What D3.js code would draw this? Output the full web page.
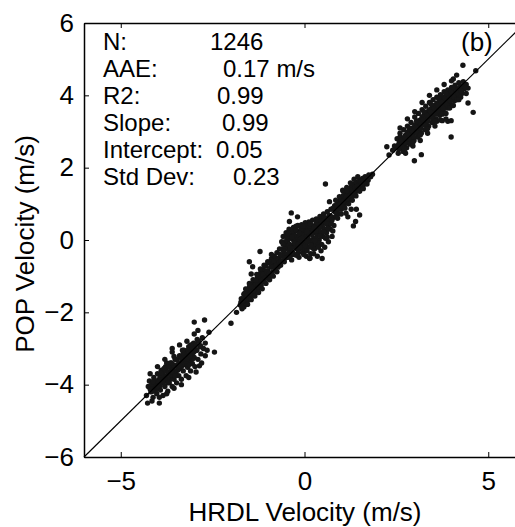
<!DOCTYPE html>
<html>
<head>
<meta charset="utf-8">
<title>POP vs HRDL velocity</title>
<script src="https://cdn.jsdelivr.net/npm/d3@7"></script>
<style>
  body { margin: 0; background: #fff; }
  svg text { font-family: "Liberation Sans", Arial, sans-serif; fill: #000; }
  .axis path, .axis line { stroke: #000; }
</style>
</head>
<body>
<div id="box"></div>
<script>
// chart size
const width = 515
const height = 527

// axis domains and ticks
const xDomain = [-6, 6]
const yDomain = [-6, 6]
const xTicks = [-5, 0, 5]
const yTicks = [-6, -4, -2, 0, 2, 4, 6]

// statistics box
const statLabels = ['N:', 'AAE:', 'R2:', 'Slope:', 'Intercept:', 'Std Dev:']
const statValues = ['1246', '0.17 m/s', '0.99', '0.99', '0.05', '0.23']
const statValueX = [210, 223, 217, 222, 216, 233]

// [HRDL, POP] pairs, cluster by cluster
const lowCluster = [
  [-4.25,-4.05],[-4.22,-3.90],[-4.18,-4.20],[-4.15,-3.98],[-4.12,-4.35],[-4.10,-3.80],[-4.08,-4.10],[-4.05,-3.95],
  [-4.02,-4.25],[-4.00,-3.70],[-3.98,-4.05],[-3.95,-3.85],[-3.92,-4.15],[-3.90,-3.60],[-3.88,-3.95],[-3.85,-4.30],
  [-3.83,-3.75],[-3.80,-4.05],[-3.78,-3.50],[-3.75,-3.88],[-3.72,-4.18],[-3.70,-3.65],[-3.68,-3.95],[-3.65,-3.40],
  [-3.62,-3.78],[-3.60,-4.05],[-3.58,-3.55],[-3.55,-3.85],[-3.52,-3.30],[-3.50,-3.65],[-3.48,-3.95],[-3.45,-3.45],
  [-3.42,-3.75],[-3.40,-3.20],[-3.38,-3.55],[-3.35,-3.85],[-3.32,-3.35],[-3.30,-3.62],[-3.28,-3.05],[-3.25,-3.45],
  [-3.22,-3.75],[-3.20,-3.25],[-3.18,-3.52],[-3.15,-2.95],[-3.12,-3.35],[-3.10,-3.62],[-3.08,-3.15],[-3.05,-3.42],
  [-3.02,-2.85],[-3.00,-3.25],[-2.98,-3.50],[-2.95,-3.05],[-2.92,-2.75],[-2.90,-3.30],[-2.85,-2.95],[-2.82,-3.15],
  [-2.78,-2.70],[-2.75,-3.00],[-2.70,-2.85],[-2.65,-3.05],
  [-4.10,-4.05],[-4.00,-3.92],[-3.90,-3.85],[-3.80,-3.75],[-3.70,-3.70],[-3.60,-3.58],[-3.50,-3.48],[-3.40,-3.40],
  [-3.30,-3.28],[-3.20,-3.18],[-3.10,-3.08],[-3.00,-2.98],[-4.05,-4.15],[-3.85,-3.62],[-3.65,-3.85],[-3.45,-3.60],
  [-3.25,-3.10],[-3.05,-3.30],[-3.95,-3.72],[-3.75,-3.40],[-3.55,-3.22],[-3.35,-3.50],[-3.15,-3.45],
  [-4.17,-4.02],[-4.13,-4.18],[-4.07,-3.88],[-4.03,-4.08],[-3.97,-3.93],[-3.93,-4.03],[-3.87,-3.72],[-3.83,-3.92],
  [-3.77,-3.62],[-3.73,-3.83],[-3.67,-3.52],[-3.63,-3.72],[-3.57,-3.45],[-3.53,-3.62],[-3.47,-3.32],[-3.43,-3.52],
  [-3.37,-3.25],[-3.33,-3.45],[-3.27,-3.18],[-3.23,-3.35],[-3.17,-3.05],[-3.13,-3.25],[-3.07,-2.95],[-3.03,-3.12],
  [-2.97,-2.88],[-2.93,-3.05],[-2.87,-2.80],[-2.83,-2.92],[-4.20,-4.12],[-4.00,-4.05],[-3.80,-3.85],[-3.60,-3.65],
  [-3.40,-3.48],[-3.20,-3.30],[-3.00,-3.08],[-3.90,-3.68],[-3.70,-3.50],[-3.50,-3.30],[-3.30,-3.12],[-3.10,-2.90],
  [-4.12,-3.92],[-3.62,-3.40],[-3.12,-3.20],[-3.82,-3.55],[-3.32,-3.05],[-3.52,-3.75],[-3.72,-3.95],
  [-4.20,-3.70],[-4.00,-3.50],[-3.80,-3.30],[-3.60,-3.00],[-3.40,-2.90],[-3.20,-2.80],[-3.00,-2.60],[-4.15,-4.45],
  [-3.95,-4.35],[-3.75,-4.25],[-3.55,-4.10],[-3.35,-4.00],[-3.15,-3.80],[-2.95,-3.65],[-2.80,-3.40],[-2.70,-3.20],
  [-2.72,-2.21],[-3.00,-2.27],[-2.45,-3.10],[-2.86,-3.48],[-4.27,-4.51],[-3.95,-4.51],[-4.30,-4.30],[-3.60,-3.10],
  [-2.60,-2.55],[-2.90,-2.50]
]

const midCluster = [
  [-1.75,-1.80],[-1.72,-1.62],[-1.70,-1.90],[-1.68,-1.70],[-1.65,-1.50],[-1.62,-1.78],[-1.60,-1.58],[-1.58,-1.40],
  [-1.55,-1.68],[-1.52,-1.48],[-1.50,-1.30],[-1.48,-1.60],[-1.45,-1.40],[-1.42,-1.22],[-1.40,-1.52],[-1.38,-1.32],
  [-1.35,-1.12],[-1.32,-1.42],[-1.30,-1.22],[-1.28,-1.02],[-1.25,-1.32],[-1.22,-1.12],[-1.20,-0.92],[-1.18,-1.25],
  [-1.15,-1.02],[-1.12,-0.82],[-1.10,-1.15],[-1.08,-0.95],[-1.05,-0.72],[-1.02,-1.05],[-1.00,-0.85],[-0.98,-0.62],
  [-0.95,-0.98],[-0.92,-0.75],[-0.90,-0.52],[-0.88,-0.90],[-0.85,-0.65],[-0.82,-0.45],[-0.80,-0.82],[-0.78,-0.58],
  [-0.75,-0.35],[-0.72,-0.75],[-0.70,-0.50],
  [-1.73,-1.72],[-1.66,-1.62],[-1.63,-1.48],[-1.57,-1.55],[-1.53,-1.38],[-1.47,-1.48],[-1.43,-1.30],[-1.37,-1.40],
  [-1.33,-1.22],[-1.27,-1.20],[-1.23,-1.05],[-1.17,-1.12],[-1.13,-0.95],[-1.07,-1.05],[-1.03,-0.88],[-0.97,-0.92],
  [-0.93,-0.62],[-0.87,-0.75],[-0.83,-0.58],[-0.77,-0.70],[-0.73,-0.52],[-0.69,-0.62],
  [-1.60,-1.35],[-1.50,-1.20],[-1.40,-1.10],[-1.30,-0.95],[-1.20,-0.80],[-1.10,-0.70],[-1.00,-0.60],[-0.90,-0.40],
  [-1.65,-1.85],[-1.55,-1.78],[-1.45,-1.65],[-1.35,-1.55],[-1.25,-1.45],[-1.15,-1.35],[-1.05,-1.20],[-0.95,-1.10],
  [-0.85,-1.00],[-0.75,-0.88],
  [-0.68,-0.25],[-0.65,-0.70],[-0.62,-0.05],[-0.60,-0.45],[-0.58,0.10],[-0.55,-0.60],[-0.52,-0.22],[-0.50,0.20],
  [-0.48,-0.48],[-0.45,0.00],[-0.42,0.30],[-0.40,-0.35],[-0.38,0.12],[-0.35,-0.55],[-0.32,-0.15],[-0.30,0.35],
  [-0.28,-0.40],[-0.25,0.05],[-0.22,0.25],[-0.20,-0.25],[-0.18,0.40],[-0.15,-0.48],[-0.12,0.10],[-0.10,-0.10],
  [-0.08,0.42],[-0.05,-0.35],[-0.02,0.20],[0.00,-0.05],[0.02,0.48],[0.05,-0.45],[0.08,0.12],[0.10,-0.20],
  [0.12,0.50],[0.15,-0.50],[0.18,0.28],[0.20,-0.08],[0.22,0.55],[0.25,-0.38],[0.28,0.20],[0.30,-0.15],
  [0.32,0.58],[0.35,-0.45],[0.38,0.32],[0.40,0.00],[0.42,0.65],[0.45,-0.30],[0.48,0.42],[0.50,0.10],
  [0.52,0.72],[0.55,-0.20],[0.58,0.50],[0.60,0.20],[0.62,0.78],[0.65,-0.05],[0.68,0.55],[0.70,0.30],
  [0.72,0.85],[0.75,0.10],[0.78,0.62],[0.80,0.40],
  [-0.60,-0.25],[-0.50,-0.10],[-0.40,-0.12],[-0.30,0.00],[-0.20,0.10],[-0.10,0.22],[0.00,0.30],[0.10,0.30],
  [0.20,0.40],[0.30,0.40],[0.40,0.45],[0.50,0.55],[0.60,0.60],[-0.55,-0.40],[-0.45,-0.25],[-0.35,-0.30],
  [-0.25,-0.20],[-0.15,-0.25],[-0.05,-0.18],[0.05,-0.10],[0.15,-0.02],[0.25,0.05],[0.35,0.15],[0.45,0.20],
  [0.55,0.30],[0.65,0.40],[-0.40,0.05],[-0.20,-0.05],[0.00,0.10],[0.20,0.15],[0.40,0.25],[0.60,0.45],
  [-0.30,0.20],[-0.10,0.30],[0.10,0.05],[0.30,0.05],[0.50,0.35],
  [-0.66,-0.40],[-0.63,-0.58],[-0.57,-0.30],[-0.53,-0.05],[-0.47,-0.38],[-0.43,-0.15],[-0.37,-0.42],[-0.33,0.25],
  [-0.27,-0.08],[-0.23,0.38],[-0.17,-0.35],[-0.13,0.00],[-0.07,0.15],[-0.03,-0.25],[0.03,0.38],[0.07,-0.30],
  [0.13,0.18],[0.17,-0.38],[0.23,0.30],[0.27,-0.25],[0.33,0.48],[0.37,-0.08],[0.43,0.35],[0.47,-0.12],
  [0.53,0.62],[0.57,0.05],[0.63,0.32],[0.67,0.68],[0.73,0.45],[0.77,0.25],
  [-0.58,-0.12],[-0.48,0.08],[-0.38,-0.22],[-0.28,0.12],[-0.18,-0.12],[-0.08,0.05],[0.02,-0.15],[0.12,0.40],
  [0.22,-0.22],[0.32,0.25],[0.42,0.12],[0.52,0.22],[0.62,0.08],[0.72,0.65],
  [-0.44,0.18],[-0.34,0.08],[-0.24,0.28],[-0.14,0.18],[-0.04,0.38],[0.06,0.22],[0.16,0.45],[0.26,0.35],
  [0.36,0.55],[0.46,0.52],[-0.52,-0.50],[-0.42,-0.48],[-0.32,-0.35],[-0.22,-0.42],[-0.12,-0.20],[-0.02,-0.40],
  [0.08,-0.05],[0.18,-0.15],[0.28,-0.02],[0.38,-0.20],
  [0.82,0.95],[0.85,0.65],[0.88,0.82],[0.90,1.05],[0.92,0.72],[0.95,0.92],[0.98,1.12],[1.00,0.85],
  [1.02,1.02],[1.05,1.22],[1.08,0.95],[1.10,1.12],[1.12,1.32],[1.15,1.05],[1.18,1.22],[1.20,1.40],
  [1.22,1.12],[1.25,1.30],[1.28,1.48],[1.30,1.22],[1.32,1.38],[1.35,1.55],[1.38,1.30],[1.40,1.45],
  [1.42,1.60],[1.45,1.38],[1.48,1.52],[1.50,1.65],[1.52,1.45],[1.55,1.58],[1.58,1.70],[1.60,1.52],
  [1.62,1.65],[1.65,1.75],[1.68,1.60],[1.72,1.72],[1.75,1.80],[1.80,1.75],[1.85,1.82],
  [0.83,0.78],[0.87,0.95],[0.93,0.85],[0.97,1.00],[1.03,0.92],[1.07,1.08],[1.13,1.18],[1.17,1.12],
  [1.23,1.22],[1.27,1.38],[1.33,1.30],[1.37,1.45],[1.43,1.48],[1.47,1.42],[1.53,1.62],[1.57,1.55],
  [1.63,1.58],[1.67,1.68],[1.73,1.65],[1.78,1.78],
  [0.85,1.10],[0.95,1.20],[1.05,1.35],[1.15,1.45],[1.25,1.58],[1.35,1.68],[1.45,1.75],[0.90,0.60],
  [1.00,0.72],[1.10,0.88],[1.20,1.00],[1.30,1.10],[1.40,1.22],[1.50,1.35],[1.60,1.42],[1.70,1.55],
  [0.78,0.88],[0.75,0.55],
  [0.57,1.55],[-0.36,0.75],[-0.19,0.64],[-0.41,0.51],[1.13,0.74],[1.27,0.85],[1.41,0.85],[1.50,0.69],
  [1.18,0.64],[1.39,0.51],[1.33,0.39],[0.14,-0.51],[0.48,-0.51],[-1.21,-0.32],[-1.50,-0.60],[-1.41,-0.74],
  [-1.45,-0.94],[-1.32,-1.11],[-1.68,-1.68],[-1.70,-1.86],[1.04,1.38],[1.15,1.36],[0.68,1.06],[-2.00,-2.30],
  [-1.85,-2.00]
]

const highCluster = [
  [2.50,2.55],[2.52,2.80],[2.55,2.40],[2.58,2.70],[2.60,2.95],[2.62,2.55],[2.65,2.82],[2.68,2.45],
  [2.70,3.05],[2.72,2.70],[2.75,2.90],[2.78,2.55],[2.80,3.15],[2.82,2.78],[2.85,3.00],[2.88,2.65],
  [2.90,3.25],[2.92,2.90],[2.95,3.10],[2.98,2.75],[3.00,3.40],[3.02,3.00],[3.05,3.20],[3.08,2.85],
  [3.10,3.50],[3.12,3.12],[3.15,3.32],[3.18,2.95],[3.20,3.60],[3.22,3.22],[3.25,3.45],[3.28,3.05],
  [3.30,3.70],[3.32,3.30],[3.35,3.55],[3.38,3.15],[3.40,3.80],[3.42,3.42],[3.45,3.62],[3.48,3.25],
  [3.50,3.88],[3.52,3.50],[3.55,3.72],[3.58,3.35],[3.60,3.95],[3.62,3.58],[3.65,3.80],[3.68,3.45],
  [3.70,4.02],[3.72,3.68],[3.75,3.90],[3.78,3.55],[3.80,4.10],[3.82,3.78],[3.85,3.98],[3.88,3.65],
  [3.90,4.15],[3.92,3.85],[3.95,4.05],[3.98,3.75],[4.00,4.22],[4.02,3.95],[4.05,4.12],[4.08,3.85],
  [4.10,4.28],[4.12,4.02],[4.15,4.18],[4.18,3.95],[4.20,4.35],[4.22,4.10],[4.25,4.25],[4.28,4.05],
  [4.32,4.38],[4.35,4.18],[4.40,4.30],[4.45,4.20],
  [2.55,2.62],[2.65,2.65],[2.75,2.78],[2.85,2.85],[2.95,2.95],[3.05,3.05],[3.15,3.15],[3.25,3.28],
  [3.35,3.38],[3.45,3.45],[3.55,3.58],[3.65,3.65],[3.75,3.75],[3.85,3.85],[3.95,3.92],[4.05,4.00],
  [4.15,4.10],[4.25,4.15],[2.60,2.85],[2.80,2.98],[3.00,3.18],[3.20,3.40],[3.40,3.60],[3.60,3.78],
  [3.80,3.95],[4.00,4.10],[2.70,2.60],[2.90,2.80],[3.10,2.98],[3.30,3.18],[3.50,3.38],[3.70,3.58],
  [3.90,3.78],[4.10,3.98],[3.60,3.28],[3.75,3.30],[3.90,3.28],
  [2.57,2.52],[2.63,2.75],[2.67,2.58],[2.73,2.85],[2.77,2.68],[2.83,2.92],[2.87,2.78],[2.93,3.02],
  [2.97,2.85],[3.03,3.12],[3.07,2.95],[3.13,3.25],[3.17,3.08],[3.23,3.32],[3.27,3.18],[3.33,3.45],
  [3.37,3.28],[3.43,3.55],[3.47,3.38],[3.53,3.65],[3.57,3.48],[3.63,3.72],[3.67,3.55],[3.73,3.82],
  [3.77,3.65],[3.83,3.92],[3.87,3.75],[3.93,3.98],[3.97,3.85],[4.03,4.05],[4.07,3.95],[4.13,4.15],
  [4.17,4.05],[4.23,4.20],[4.27,4.12],[4.33,4.28],[4.38,4.22],
  [2.85,3.10],[3.05,3.30],[3.25,3.55],[3.45,3.75],[3.65,3.92],[3.85,4.05],[4.05,4.22],[2.95,2.70],
  [3.15,2.90],[3.35,3.08],[3.55,3.28],[3.75,3.48],[3.95,3.65],[4.15,3.88],
  [2.60,3.10],[2.80,3.35],[3.00,3.55],[3.20,3.80],[3.40,4.00],[3.60,4.15],[3.80,4.30],[4.00,4.40],
  [2.75,2.40],[2.95,2.60],[3.15,2.75],[3.35,2.95],[3.55,3.15],[3.85,3.50],[4.05,3.72],[4.25,3.95],
  [4.40,4.05],
  [4.31,4.83],[4.66,4.68],[4.14,4.56],[4.45,3.79],[4.59,3.53],[3.99,3.30],[3.99,2.85],[3.18,2.36],
  [2.99,2.19],[2.24,2.58],[2.45,2.60],[2.72,2.51],[2.30,2.35],[3.85,3.35],[3.70,3.32],[4.05,4.45],
  [2.40,2.48],[4.20,3.88]
]

const points = lowCluster.concat(midCluster, highCluster)

// scales: the axes box runs past the right edge of the picture
const xScale = d3.scaleLinear().domain(xDomain).range([84, 525])
const yScale = d3.scaleLinear().domain(yDomain).range([457, 23])

const svg = d3.select('#box')
  .append('svg')
  .attr('width', width)
  .attr('height', height)

// dots
svg.append('g')
  .selectAll('circle')
  .data(points)
  .enter()
  .append('circle')
  .attr('cx', d => xScale(d[0]))
  .attr('cy', d => yScale(d[1]))
  .attr('r', 2.7)
  .attr('fill', '#151515')

// 1:1 line
svg.append('line')
  .attr('x1', xScale(xDomain[0]))
  .attr('y1', yScale(yDomain[0]))
  .attr('x2', xScale(xDomain[1]))
  .attr('y2', yScale(yDomain[1]))
  .attr('stroke', '#000')
  .attr('stroke-width', 1.2)

// axes, ticks pointing inward
const tickFont = 26
const fmt = d => d < 0 ? '\u2212' + Math.abs(d) : d

const xAxis = d3.axisBottom(xScale).tickValues(xTicks).tickSizeInner(-5).tickSizeOuter(0).tickFormat(fmt)
svg.append('g')
  .attr('class', 'axis')
  .attr('transform', `translate(0,${yScale(yDomain[0])})`)
  .call(xAxis)
  .call(g => g.select('.domain').attr('stroke-width', 1.5))
  .call(g => g.selectAll('text').attr('font-size', tickFont).attr('dy', '1.15em').attr('font-family', '"Liberation Sans", Arial, sans-serif'))

const xAxisTop = d3.axisTop(xScale).tickValues(xTicks).tickSizeInner(-5).tickSizeOuter(0).tickFormat('')
svg.append('g')
  .attr('class', 'axis')
  .attr('transform', `translate(0,${yScale(yDomain[1])})`)
  .call(xAxisTop)
  .call(g => g.select('.domain').attr('stroke-width', 1.5))

const yAxis = d3.axisLeft(yScale).tickValues(yTicks).tickSizeInner(-5).tickSizeOuter(0).tickFormat(fmt)
svg.append('g')
  .attr('class', 'axis')
  .attr('transform', `translate(${xScale(xDomain[0])},0)`)
  .call(yAxis)
  .call(g => g.select('.domain').attr('stroke-width', 1.5))
  .call(g => g.selectAll('text').attr('font-size', tickFont).attr('x', -10).attr('font-family', '"Liberation Sans", Arial, sans-serif'))

// axis titles
svg.append('text')
  .attr('x', 305)
  .attr('y', 521)
  .attr('text-anchor', 'middle')
  .attr('font-size', 26)
  .text('HRDL Velocity (m/s)')

svg.append('text')
  .attr('transform', 'translate(34,244) rotate(-90)')
  .attr('text-anchor', 'middle')
  .attr('font-size', 26)
  .text('POP Velocity (m/s)')

// statistics text, lines 27px apart
const statFont = 24
const stats = svg.append('g').attr('font-size', statFont)
statLabels.forEach((lab, i) => {
  stats.append('text').attr('x', 103).attr('y', 50 + i * 27).text(lab)
  stats.append('text').attr('x', statValueX[i]).attr('y', 50 + i * 27).text(statValues[i])
})

svg.append('text')
  .attr('x', 461)
  .attr('y', 51)
  .attr('font-size', 26)
  .text('(b)')
</script>
</body>
</html>
